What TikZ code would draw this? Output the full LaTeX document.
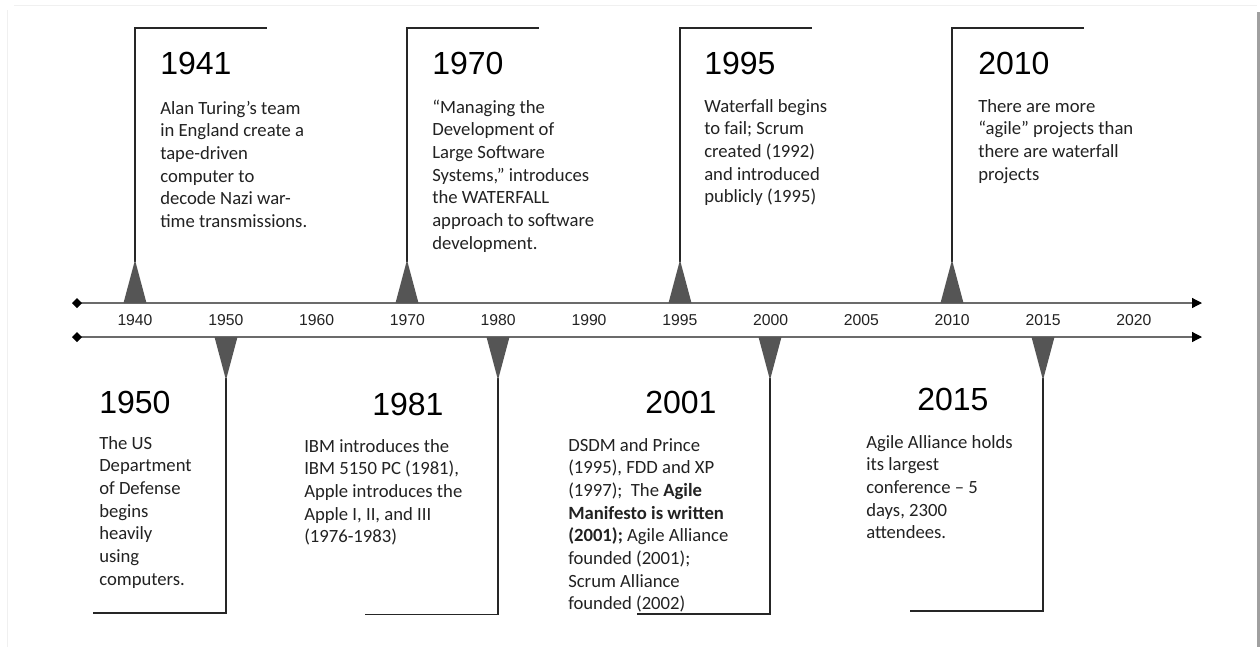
\documentclass[tikz,border=0pt]{standalone}
\usepackage{fontspec}
\setmainfont{Carlito}
\newfontfamily\helv{Liberation Sans}
\usetikzlibrary{arrows.meta}
\definecolor{axisgray}{HTML}{6B6B6B}
\definecolor{trifill}{HTML}{555555}
\definecolor{txt}{HTML}{222222}
\definecolor{edgegray}{HTML}{A0A0A0}
\newcommand\mylines[1]{\begin{tabular}[t]{@{}l@{}}#1\end{tabular}}
\begin{document}
\begin{tikzpicture}[x=0.75pt,y=-0.75pt,
  axisline/.style={draw=axisgray,line width=0.9pt,
    {Diamond[length=7.5pt,width=7.5pt,color=black]}-{Triangle[length=7.5pt,width=7.5pt,color=black]}},
  ticklab/.style={font=\helv\fontsize{11.8}{13}\selectfont,text=txt,anchor=base,inner sep=0},
  yearlab/.style={font=\helv\fontsize{24}{28}\selectfont,anchor=base west,inner sep=0,text=black},
  bodytext/.style={font=\fontsize{14}{17}\selectfont,anchor=base west,inner sep=0,text=txt},
  callout/.style={draw=black!85,line width=1.1pt},
  marker/.style={fill=trifill}
]
\useasboundingbox (0,0) rectangle (1260,647);
\fill[white] (0,0) rectangle (1260,647);
% faint frame
\draw[black!6,line width=0.6pt] (14,5) -- (1257,5);
\draw[black!6,line width=0.6pt] (7,10) -- (7,647);
\fill[edgegray] (1257,12) rectangle (1260,647);

% axes
\coordinate (topL) at (72,303);
\coordinate (topR) at (1202,303);
\coordinate (botL) at (72,337);
\coordinate (botR) at (1202,337);
\draw[axisline] (topL) -- (topR);
\draw[axisline] (botL) -- (botR);

% tick labels
\foreach \lab [count=\i from 0] in {1940,1950,1960,1970,1980,1990,1995,2000,2005,2010,2015,2020}
  \node[ticklab] (t\lab) at ({135+90.8*\i},325) {\lab};

% upper callouts
\foreach \X/\nm in {135/a,407/b,680/c,952/d}{
  \coordinate (\nm apex) at (\X,262);
  \coordinate (\nm top) at (\X,28);
  \coordinate (\nm end) at (\X+132,28);
  \draw[callout] (\nm apex) -- (\nm top) -- (\nm end);
  \fill[marker] (\X-11.5,303) -- (\X,260) -- (\X+11.5,303) -- cycle;
}
% lower callouts
\foreach \X/\Y/\nm in {226/613/e,498/614.5/f,770/614/g,1043/611/h}{
  \coordinate (\nm apex) at (\X,378);
  \coordinate (\nm bot) at (\X,\Y);
  \coordinate (\nm end) at (\X-133,\Y);
  \draw[callout] (\nm apex) -- (\nm bot) -- (\nm end);
  \fill[marker] (\X-11.5,337) -- (\X,380) -- (\X+11.5,337) -- cycle;
}

% upper texts
\node[yearlab] (y1941) at (160,74) {1941};
\node[bodytext] (b1941) at (160,114) {\mylines{Alan Turing’s team\\in England create a\\tape-driven\\computer to\\decode Nazi war-\\time transmissions.}};
\node[yearlab] (y1970) at (432,74) {1970};
\node[bodytext] (b1970) at (432,113) {\mylines{“Managing the\\Development of\\Large Software\\Systems,” introduces\\the WATERFALL\\approach to software\\development.}};
\node[yearlab] (y1995) at (704,74) {1995};
\node[bodytext] (b1995) at (704,112) {\mylines{Waterfall begins\\to fail; Scrum\\created (1992)\\and introduced\\publicly (1995)}};
\node[yearlab] (y2010) at (978,74) {2010};
\node[bodytext] (b2010) at (978,112) {\mylines{There are more\\“agile” projects than\\there are waterfall\\projects}};

% lower texts
\node[yearlab] (y1950) at (99,413) {1950};
\node[bodytext] (b1950) at (99,449) {\mylines{The US\\Department\\of Defense\\begins\\heavily\\using\\computers.}};
\node[yearlab] (y1981) at (372,415) {1981};
\node[bodytext] (b1981) at (304,452) {\mylines{IBM introduces the\\IBM 5150 PC (1981),\\Apple introduces the\\Apple I, II, and III\\(1976-1983)}};
\node[yearlab] (y2001) at (645,413) {2001};
\node[bodytext] (b2001) at (568,451) {\mylines{DSDM and Prince\\(1995), FDD and XP\\(1997);\ \ The \textbf{Agile}\\\textbf{Manifesto is written}\\\textbf{(2001);} Agile Alliance\\founded (2001);\\Scrum Alliance\\founded (2002)}};
\node[yearlab] (y2015) at (917,410) {2015};
\node[bodytext] (b2015) at (866,448) {\mylines{Agile Alliance holds\\its largest\\conference – 5\\days, 2300\\attendees.}};
\end{tikzpicture}
\end{document}
